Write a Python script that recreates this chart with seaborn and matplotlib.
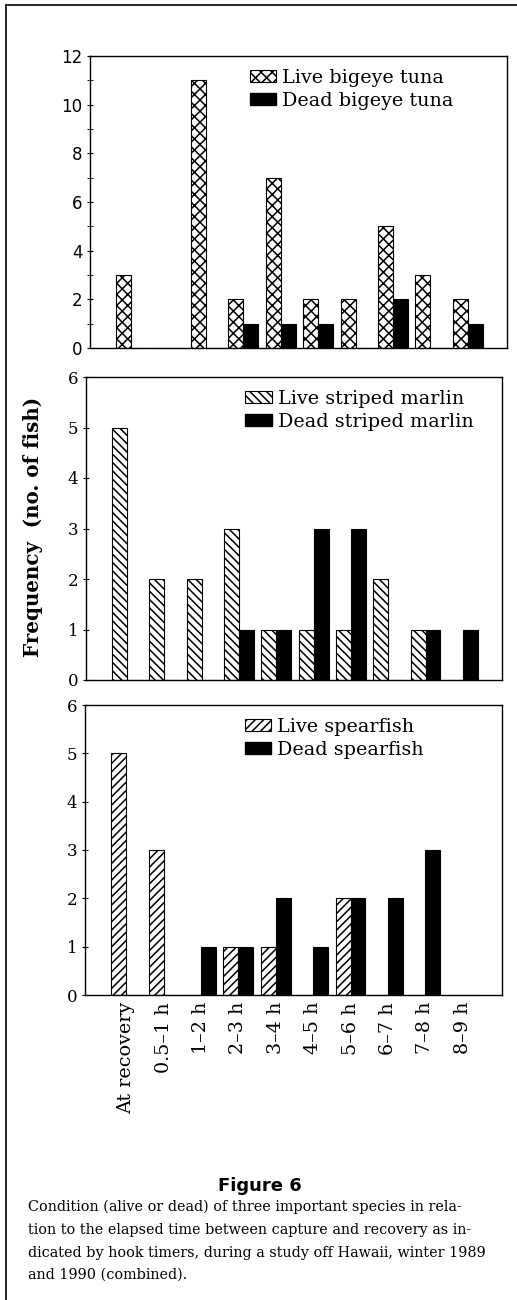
import matplotlib
matplotlib.use("Agg")
import matplotlib.pyplot as plt
from matplotlib.patches import Patch
from matplotlib.lines import Line2D
import seaborn as sns
import pandas as pd

categories = ["At recovery", "0.5\u20131 h", "1\u20132 h", "2\u20133 h", "3\u20134 h",
              "4\u20135 h", "5\u20136 h", "6\u20137 h", "7\u20138 h", "8\u20139 h"]

live_bigeye = [3, 0, 11, 2, 7, 2, 2, 5, 3, 2]
dead_bigeye = [0, 0, 0, 1, 1, 1, 0, 2, 0, 1]

live_marlin = [5, 2, 2, 3, 1, 1, 1, 2, 1, 0]
dead_marlin = [0, 0, 0, 1, 1, 3, 3, 0, 1, 1]

live_spear = [5, 3, 0, 1, 1, 0, 2, 0, 0, 0]
dead_spear = [0, 0, 1, 1, 2, 1, 2, 2, 3, 0]

panels = [
    ("Live bigeye tuna", "Dead bigeye tuna", live_bigeye, dead_bigeye, "xxx", 12, [0, 2, 4, 6, 8, 10, 12]),
    ("Live striped marlin", "Dead striped marlin", live_marlin, dead_marlin, "\\\\\\\\", 6, [0, 1, 2, 3, 4, 5, 6]),
    ("Live spearfish", "Dead spearfish", live_spear, dead_spear, "////", 6, [0, 1, 2, 3, 4, 5, 6]),
]

caption = ("Condition (alive or dead) of three important species in rela-\n"
           "tion to the elapsed time between capture and recovery as in-\n"
           "dicated by hook timers, during a study off Hawaii, winter 1989\n"
           "and 1990 (combined).")

sns.set_style("ticks")
plt.rcParams["font.family"] = ["DejaVu Serif"]
plt.rcParams["hatch.linewidth"] = 1.1
plt.rcParams["axes.linewidth"] = 1.0
for k in ["text.color", "axes.labelcolor", "xtick.color", "ytick.color", "axes.edgecolor"]:
    plt.rcParams[k] = "black"

fig = plt.figure(figsize=(5.17, 13.0), dpi=100)

boxes = [
    [90 / 517, 1 - 348 / 1300, (507 - 90) / 517, (348 - 56) / 1300],
    [86 / 517, 1 - 680 / 1300, (502 - 86) / 517, (680 - 377) / 1300],
    [85 / 517, 1 - 995 / 1300, (502 - 85) / 517, (995 - 705) / 1300],
]

for i, (lname, dname, live, dead, hatch, ymax, yt) in enumerate(panels):
    ax = fig.add_axes(boxes[i])
    df = pd.DataFrame({
        "cat": categories * 2,
        "cond": [lname] * len(categories) + [dname] * len(categories),
        "val": live + dead,
    })
    sns.barplot(data=df, x="cat", y="val", hue="cond", order=categories,
                hue_order=[lname, dname], palette=["white", "black"],
                width=0.8, ax=ax, legend=False, saturation=1)
    for bar in ax.containers[0]:
        bar.set_facecolor("white")
        bar.set_edgecolor("black")
        bar.set_hatch(hatch)
        bar.set_linewidth(0.8)
    for bar in ax.containers[1]:
        bar.set_facecolor("black")
        bar.set_edgecolor("black")
        bar.set_linewidth(0.8)
    ax.set_xlim(-1.1, 10.05)
    ax.set_ylim(0, ymax)
    ax.set_yticks(yt)
    if ymax == 12:
        ax.set_yticks(range(1, 12, 2), minor=True)
        for t in ax.get_yticklabels():
            t.set_family("DejaVu Sans")
    ax.tick_params(axis="y", direction="inout", length=5, labelsize=12, pad=3)
    ax.tick_params(axis="y", which="minor", direction="inout", length=4)
    ax.set_xlabel("")
    ax.set_ylabel("")
    for s in ax.spines.values():
        s.set_visible(True)
        s.set_linewidth(1.0)
    if i < 2:
        ax.set_xticks([])
    else:
        ax.set_xticks(range(len(categories)))
        ax.set_xticklabels(categories, rotation=90, fontsize=13.8)
        ax.tick_params(axis="x", length=0, pad=5)
    handles = [Patch(facecolor="white", edgecolor="black", hatch=hatch, linewidth=0.8),
               Patch(facecolor="black", edgecolor="black")]
    ax.legend(handles, [lname, dname], loc="upper left",
              bbox_to_anchor=(0.355, 0.995), frameon=False,
              handlelength=1.4, handleheight=0.55, handletextpad=0.3,
              labelspacing=0.25, borderaxespad=0.2,
              prop={"family": "DejaVu Serif", "size": 13.8})

fig.text(33 / 517, 1 - 527 / 1300, "Frequency  (no. of fish)", rotation=90,
         ha="center", va="center", fontsize=14.3, fontweight="bold", family="DejaVu Serif")

fig.text(260 / 517, 1 - 1186 / 1300, "Figure 6", ha="center", va="center",
         fontsize=13, fontweight="bold", family="DejaVu Sans")
fig.text(28 / 517, 1 - 1200 / 1300, caption, ha="left", va="top",
         fontsize=10.35, family="DejaVu Serif", linespacing=1.78)

fig.add_artist(Line2D([6 / 517, 1.0], [1 - 5 / 1300, 1 - 5 / 1300], color="black", lw=1.2))
fig.add_artist(Line2D([6 / 517, 6 / 517], [0, 1 - 5 / 1300], color="black", lw=1.2))

fig.savefig("out.png", dpi=100)
